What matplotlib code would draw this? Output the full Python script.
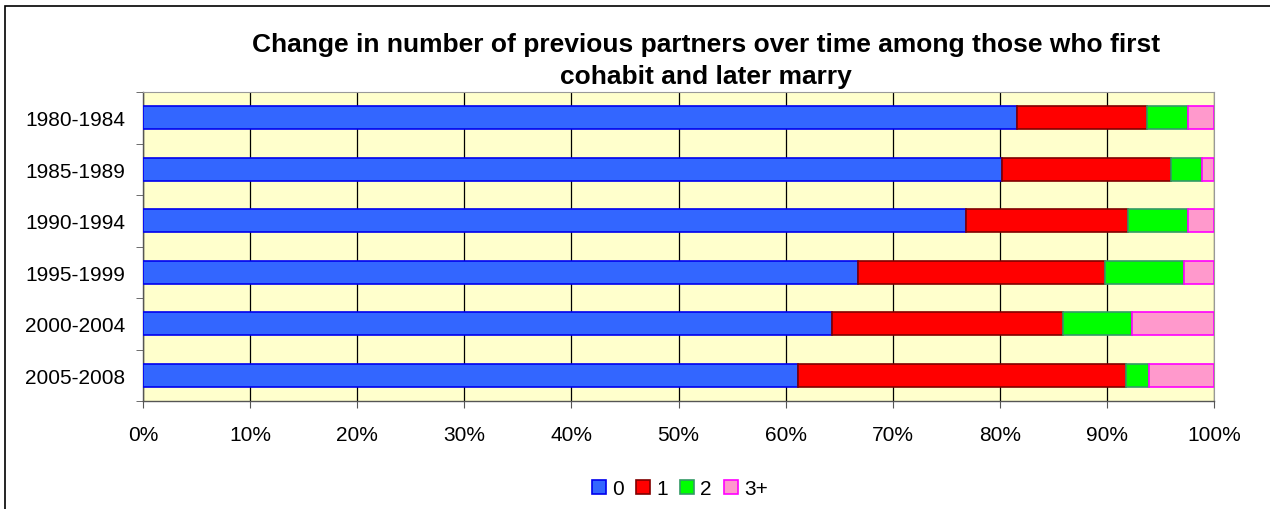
import numpy as np
import matplotlib.pyplot as plt
from matplotlib.patches import Rectangle

plt.rcParams['font.family'] = ['Liberation Sans', 'DejaVu Sans']

# =========================
# Data (share of each group, %)
# =========================
periods = ['1980-1984', '1985-1989', '1990-1994', '1995-1999', '2000-2004', '2005-2008']
p0 = [81.6, 80.2, 76.8, 66.8, 64.3, 61.2]
p1 = [12.1, 15.8, 15.2, 23.0, 21.6, 30.6]
p2 = [3.9, 2.9, 5.6, 7.4, 6.4, 2.1]
p3 = [2.4, 1.1, 2.4, 2.8, 7.7, 6.1]
series_names = ['0', '1', '2', '3+']

face_cols = ['#3366FF', '#FF0000', '#00FF00', '#FF99CC']
edge_cols = ['#0000EE', '#800000', '#339966', '#FF00FF']

W, H = 1270, 510
fig = plt.figure(figsize=(W / 100, H / 100), dpi=100)

# outer chart border
fig.patches.append(Rectangle((5 / W, -0.1), 1.1, (H - 7) / H + 0.1,
                             transform=fig.transFigure, fill=False,
                             edgecolor='black', linewidth=1.2))

ax = fig.add_axes([143 / W, 1 - 402 / H, (1214 - 143) / W, (402 - 93) / H])
ax.set_facecolor('#FFFFCC')

y = np.arange(len(periods))
left = np.zeros(len(periods))
for vals, fc, ec, name in zip([p0, p1, p2, p3], face_cols, edge_cols, series_names):
    vals = np.array(vals)
    ax.barh(y, vals, left=left, height=0.45, color=fc, edgecolor=ec,
            linewidth=1.2, label=name, zorder=3)
    left = left + vals

ax.set_xlim(0, 100)
ax.set_ylim(len(periods) - 0.5, -0.5)
ax.set_xticks(np.arange(0, 101, 10))
ax.set_xticklabels([f'{v}%' for v in range(0, 101, 10)], fontsize=15)
ax.set_yticks(y)
ax.set_yticklabels(periods, fontsize=15)
ax.set_yticks(np.arange(-0.5, len(periods), 1), minor=True)
ax.tick_params(axis='y', which='major', length=0, pad=13)
ax.tick_params(axis='y', which='minor', length=5, color='#555555')
ax.tick_params(axis='x', length=5, color='#555555', pad=12)

ax.grid(axis='x', color='black', linewidth=0.9, zorder=1)
ax.set_axisbelow(True)

for s in ['top', 'right']:
    ax.spines[s].set_color('#999999')
for s in ['left', 'bottom']:
    ax.spines[s].set_color('#555555')
    ax.spines[s].set_linewidth(1.0)

fig.text(706 / W, 1 - 45 / H, 'Change in number of previous partners over time among those who first',
         ha='center', va='center', fontsize=19, fontweight='bold')
fig.text(706 / W, 1 - 77 / H, 'cohabit and later marry',
         ha='center', va='center', fontsize=19, fontweight='bold')

fig.legend(loc='center', bbox_to_anchor=(680 / W, 1 - 490 / H), ncol=4,
           frameon=False, fontsize=15, handlelength=0.65, handleheight=0.65,
           handletextpad=0.3, columnspacing=0.6)

fig.savefig('out.png', dpi=100)
